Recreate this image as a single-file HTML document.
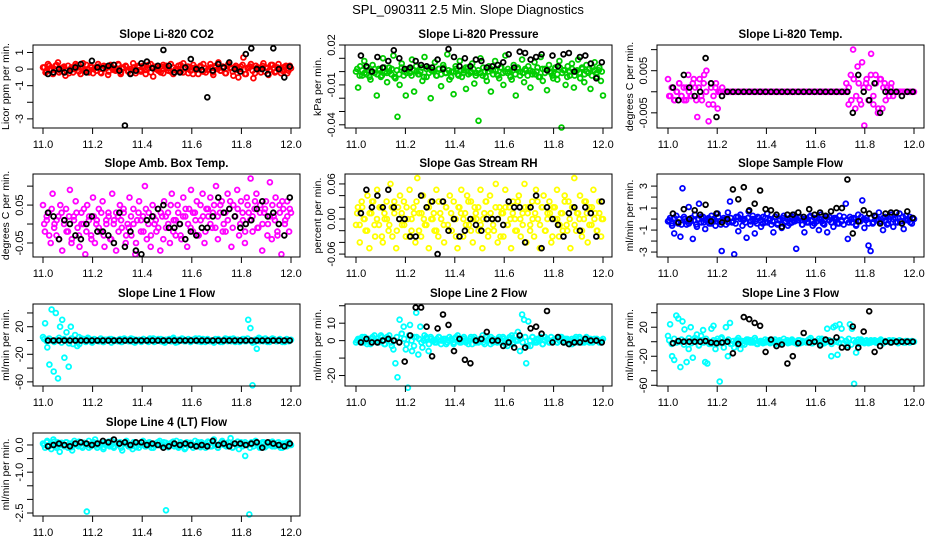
<!DOCTYPE html>
<html><head><meta charset="utf-8"><style>
html,body{margin:0;padding:0;background:#fff;}
svg{display:block;font-family:"Liberation Sans",sans-serif;}
</style></head><body>
<svg id="chart" width="936" height="540" viewBox="0 0 936 540">
<text x="468" y="14" text-anchor="middle" font-size="13">SPL_090311  2.5 Min. Slope Diagnostics</text>
</svg>
<script>
// ---- data ----
const xTicks = [11.0, 11.2, 11.4, 11.6, 11.8, 12.0];
const xTickLabels = ["11.0","11.2","11.4","11.6","11.8","12.0"];
const timeStart = 11.0, timeEnd = 12.0;

const co2Red = [0.1,-0.2,0.3,0.0,-0.3,0.2,0.4,-0.1,0.1,-0.4,0.2,0.0,-0.2,0.3,0.1,-0.3,0.35,-0.1,0.0,0.2,-0.25,0.1,0.3,-0.2,0.0,0.15,-0.35,0.25,0.05,-0.1,0.3,-0.3,0.1,0.2,-0.15,0.0,0.35,-0.25,0.1,-0.05,0.2,-0.3,0.05,0.3,-0.45,0.15,0.0,-0.2,0.25,0.1,-0.1,0.3,-0.3,0.0,0.2,-0.15,0.35,0.05,-0.25,0.1,0.25,-0.05,-0.3,0.15,0.3,-0.2,0.0,0.1,-0.35,0.2,0.4,-0.1,0.05,-0.25,0.3,0.1,-0.4,0.2,-0.5,0.15,0.7,-0.3,0.1,0.3,-0.55,0.2,0.0,-0.2,0.35,0.1,-0.35,0.25,0.05,-0.15,0.3,-0.25,0.1,0.2,-0.1,0.05];
const co2Core = [0.1,-0.15,0.2,-0.05,0.0,0.25,-0.2,0.05,0.15,-0.1,-0.25,0.1,0.0,0.2,-0.15,0.05,-0.05,0.25,-0.2,0.1,0.0,-0.1,0.15,-0.25,0.2,0.05,-0.15,0.1,-0.05,0.0,0.25,-0.2,0.05,0.15,-0.1,-0.25,0.1,0.0,0.2,-0.15,0.05,-0.05,0.25,-0.2,0.1,0.0,-0.1,0.15,-0.25,0.2,0.05,-0.15,0.1,-0.05,0.0,0.25,-0.2,0.05,0.15,-0.1,-0.3,0.1,0.0,0.2,-0.15,0.05,-0.05,0.3,-0.2,0.1,0.0,-0.1,0.15,-0.25,0.2,0.05,-0.15,0.1,-0.05,0.0,0.25,-0.3,0.05,0.15,-0.1,-0.25,0.1,0.0,0.2,-0.15,0.05,-0.05,0.25,-0.2,0.1,0.0,-0.1,0.15,-0.25,0.2];
const co2Black = [-0.3,-0.2,0.0,-0.2,-0.1,0.1,0.3,-0.2,0.5,0.1,0.05,0.2,0.25,-0.1,-3.4,-0.3,-0.1,0.35,0.45,0.05,0.2,1.15,0.2,-0.2,-0.2,0.1,0.6,0.0,-0.05,-1.7,-0.1,0.3,0.1,0.4,0.0,-0.15,0.9,1.25,0.0,0.0,-0.3,1.25,0.0,-0.5,0.15];

const presGreen = [0,-0.012,0.004,-0.003,0.008,-0.002,0.001,-0.006,0.005,-0.001,-0.018,0.002,-0.004,0.010,0.000,-0.008,0.003,-0.002,0.012,-0.005,-0.034,-0.010,0.006,-0.003,-0.018,0.002,-0.001,0.009,-0.015,0.004,-0.002,0.000,-0.007,0.011,-0.004,0.003,-0.020,0.001,0.007,-0.003,0.002,-0.011,0.005,-0.001,0.013,-0.006,0.000,-0.017,0.004,-0.002,0.008,-0.004,0.001,-0.013,0.003,-0.001,0.006,-0.009,-0.001,-0.037,0.010,-0.003,0.000,-0.007,0.004,-0.015,0.001,0.008,-0.002,-0.005,0.003,-0.010,0.012,-0.001,0.000,-0.006,0.005,-0.018,0.002,-0.003,0.009,-0.008,0.001,0.004,-0.012,-0.002,0.007,0.000,-0.004,0.011,-0.007,0.002,-0.014,0.005,-0.001,-0.005,0.003,-0.006,0.008,-0.042,0.001,-0.010,0.004,-0.003,0.006,-0.012,0.000,0.009,-0.005,0.002,-0.008,0.005,-0.001,-0.013,0.003,0.007,-0.004,0.001,-0.007,-0.018];
const presCore = [0.002,-0.003,0.001,-0.001,0.003,-0.004,0.000,0.002,-0.002,0.001,-0.003,0.003,-0.001,0.000,0.002,-0.004,0.001,-0.002,0.003,0.000,-0.001,0.002,-0.003,0.001,0.000,-0.002,0.003,-0.004,0.002,-0.001,0.001,0.000,-0.003,0.002,-0.002,0.003,-0.001,0.001,-0.004,0.000,0.002,-0.003,0.001,-0.001,0.003,-0.002,0.000,0.002,-0.003,0.001,-0.001,0.003,-0.004,0.000,0.002,-0.002,0.001,-0.003,0.003,-0.001,0.000,0.002,-0.004,0.001,-0.002,0.003,0.000,-0.001,0.002,-0.003,0.001,0.000,-0.002,0.003,-0.004,0.002,-0.001,0.001,0.000,-0.003,0.002,-0.002,0.003,-0.001,0.001,-0.004,0.000,0.002,-0.003,0.001,-0.001,0.003,-0.002,0.000,0.002,-0.003,0.001,-0.001,0.003,0.000];
const presBlack = [0.012,0.004,0.000,0.011,0.003,0.008,0.016,0.010,0.002,0.003,0.008,0.005,0.004,0.003,0.009,0.002,0.017,0.011,0.004,0.010,0.004,0.009,0.008,0.003,0.004,0.005,0.007,0.013,0.003,0.015,0.014,0.009,0.011,0.013,0.001,0.012,0.004,0.013,0.014,0.0,0.011,0.012,0.006,-0.005,0.007];

const tempMag = [0.003,-0.001,0.001,-0.002,0.000,0.002,-0.001,0.001,-0.002,0.004,-0.001,0.002,0.001,-0.006,0.003,-0.002,0.004,0.005,-0.007,0.002,-0.003,0.001,-0.004,0.000,0.001,0,0,0,0,0,0,0,0,0,0,0,0,0,0,0,0,0,0,0,0,0,0,0,0,0,0,0,0,0,0,0,0,0,0,0,0,0,0,0,0,0,0,0,0,0,0,0,0,0,0,0,0,0,0,0.002,-0.003,0.004,0.010,-0.004,0.006,-0.002,0.007,-0.008,0.003,0.001,0.009,-0.003,0.004,-0.005,0.003,-0.004,0.002,0.001,-0.001,0.002,0,0,0,0,0,0,0,0,0,0];
const tempCore = [-0.001,0.001,-0.002,0.000,0.002,-0.001,-0.002,0.001,0.000,-0.001,0.003,-0.002,0.001,-0.001,0.002,0.000,-0.003,0.001,-0.001,0.002,0.000,0.000,0,0,0,0,0,0,0,0,0,0,0,0,0,0,0,0,0,0,0,0,0,0,0,0,0,0,0,0,0,0,0,0,0,0,0,0,0,0,0,0,0,0,0,0,0,0,0,0,0,0,0,0.001,-0.002,0.003,-0.001,0.002,-0.003,0.001,0.002,-0.002,0.004,-0.001,0.002,-0.004,0.003,0.001,-0.002,0.000,0.001,-0.001,0,0,0,0,0,0,0,0];
const tempBlack = [0.001,-0.002,0.004,0.001,-0.001,0,0.008,0.002,-0.006,-0.001,0,0,0,0,0,0,0,0,0,0,0,0,0,0,0,0,0,0,0,0,0,0,0,-0.005,0.004,0,-0.002,0.002,-0.005,0,0,0,-0.001,0,0];

const ambMag = [0.05,-0.02,0.01,0.03,-0.05,0.08,0.0,-0.03,0.02,0.05,-0.07,0.01,0.04,-0.02,0.09,-0.04,0.02,0.06,-0.01,-0.06,0.03,0.0,-0.08,0.05,0.02,-0.03,0.07,-0.05,0.01,0.04,-0.02,0.06,-0.06,0.0,0.03,-0.04,0.08,0.01,-0.07,0.02,0.05,-0.01,0.03,-0.05,0.0,0.07,-0.03,0.04,-0.08,0.01,0.06,-0.02,0.02,0.10,-0.04,0.03,-0.06,0.05,0.0,-0.02,0.04,-0.07,0.02,0.06,-0.01,0.03,-0.05,0.08,0.01,-0.03,0.05,0.0,-0.04,0.07,0.02,-0.06,0.04,0.09,-0.02,0.03,0.06,-0.03,0.01,0.08,-0.05,0.04,0.02,0.07,-0.01,0.05,0.10,-0.04,0.03,0.06,0.0,-0.02,0.08,0.04,-0.06,0.05,0.02,0.09,-0.03,0.06,0.01,-0.05,0.07,0.03,0.12,-0.02,0.04,0.08,-0.01,0.05,-0.07,0.03,0.06,0.0,0.11,-0.04,0.02,0.07,-0.03,0.05,-0.08,0.04,0.01,0.06,-0.02,0.03];
const ambCore = [0.0,0.02,-0.03,0.04,-0.01,0.01,-0.04,0.03,0.0,-0.02,0.02,-0.05,0.01,0.03,-0.03,0.0,0.04,-0.02,0.01,-0.04,0.02,0.0,-0.01,0.03,-0.03,0.01,0.02,-0.04,0.0,0.03,-0.02,0.01,0.04,-0.03,-0.01,0.02,0.0,-0.05,0.03,0.01,-0.02,0.04,0.0,-0.03,0.02,0.01,-0.01,0.03,-0.04,0.02,0.0,0.05,-0.02,0.01,0.03,-0.03,0.02,0.04,0.0,-0.01,0.03,0.01,-0.03,0.05,0.02,-0.02,0.04,0.0,0.03,-0.01,0.02,0.05,-0.02,0.03,0.01,0.06,-0.01,0.02,0.04,0.0,0.03,-0.02,0.05,0.01,0.02,0.06,-0.01,0.03,0.0,0.04,-0.03,0.02,0.05,0.01,-0.02,0.03,0.06,0.0,0.02,0.04];
const ambBlack = [0.03,0.02,-0.04,0.01,0.0,-0.03,-0.04,0.0,0.02,-0.02,-0.02,-0.03,-0.05,0.03,-0.06,-0.02,-0.07,-0.08,0.01,0.02,0.04,0.05,-0.01,-0.01,0.0,-0.04,-0.02,-0.03,-0.01,-0.01,0.02,0.07,0.03,0.04,0.02,-0.01,0.0,0.01,0.04,0.06,0.02,0.03,0.0,-0.03,0.07];

const rhYellow = [-0.01,0.02,-0.04,0.03,0.0,-0.02,0.04,-0.05,0.01,0.03,-0.03,0.05,-0.01,0.02,-0.04,0.0,0.03,-0.02,0.06,-0.03,0.01,-0.05,0.02,0.04,-0.01,0.03,-0.03,0.0,0.05,-0.02,0.02,-0.04,0.07,0.01,-0.03,0.04,-0.01,0.02,-0.05,0.03,0.0,-0.02,0.05,-0.03,0.01,0.03,-0.04,0.02,-0.01,0.04,-0.02,0.03,0.0,-0.05,0.02,0.05,-0.03,0.01,0.04,-0.01,0.03,-0.04,0.02,0.0,-0.02,0.05,-0.05,0.01,0.03,-0.03,0.04,0.0,-0.02,0.06,-0.04,0.02,0.01,-0.03,0.05,-0.01,0.02,-0.05,0.03,0.0,-0.02,0.04,-0.03,0.01,0.06,-0.04,0.02,-0.01,0.03,-0.03,0.05,0.0,-0.05,0.02,0.04,-0.02,0.01,0.03,-0.04,0.02,0.0,0.05,-0.03,0.01,-0.02,0.04,-0.01,0.03,-0.05,0.02,0.07,-0.02,0.01,0.04,-0.03,0.0,0.03,-0.04,0.02,-0.01,0.05,0.01,-0.02,0.03,-0.03,0.0];
const rhCore = [0.01,-0.01,0.02,0.0,-0.02,0.01,0.03,-0.01,0.0,0.02,-0.03,0.01,0.0,-0.01,0.02,0.03,-0.02,0.0,0.01,-0.01,0.02,-0.03,0.0,0.01,0.03,-0.02,0.01,0.0,-0.01,0.02,0.0,0.01,-0.02,0.03,0.0,-0.01,0.02,-0.02,0.01,0.0,-0.03,0.02,0.01,0.0,-0.01,0.03,-0.02,0.0,0.01,0.02,-0.01,0.0,0.03,-0.02,0.01,-0.01,0.02,0.0,-0.03,0.01,0.02,-0.01,0.0,0.01,-0.02,0.03,0.0,-0.01,0.02,0.01,-0.02,0.0,0.01,0.03,-0.01,0.02,-0.02,0.0,0.01,-0.03,0.02,0.0,-0.01,0.01,0.03,-0.02,0.0,0.02,-0.01,0.01,0.0,-0.02,0.03,0.01,-0.01,0.02,0.0,-0.02,0.01,0.0];
const rhBlack = [0.01,0.05,0.02,0.04,0.02,0.05,0.02,0.0,0.0,-0.03,-0.03,0.04,0.02,0.03,-0.06,0.03,-0.02,0.0,-0.03,-0.02,0.0,-0.01,-0.02,0.0,0.0,0.0,-0.01,0.03,0.02,0.02,-0.04,0.02,0.04,-0.05,0.02,0.0,-0.01,-0.03,0.01,0.02,-0.02,0.02,0.01,-0.03,0.03];

const sampleBlue = [-0.2,0.1,-0.6,-1.3,0.3,-0.4,-1.6,2.8,0.0,-0.5,1.1,-0.2,-1.8,0.4,-0.7,1.4,-0.3,0.2,-0.9,0.0,-0.4,0.3,-0.1,-0.6,0.5,-0.2,-2.9,0.1,-0.5,0.6,1.6,-0.3,-3.2,0.2,-1.1,0.4,-0.6,0.0,-1.7,0.7,-0.2,0.3,-1.3,-0.4,0.1,-0.7,0.2,-0.3,0.5,-0.1,-0.5,-1.2,0.2,-0.4,0.0,-0.8,0.3,-0.2,-0.6,0.1,-0.3,0.4,-2.7,-0.1,0.2,-0.5,-1.2,0.0,-0.3,0.3,-0.6,0.1,-0.2,-1.0,0.4,-0.4,0.0,-1.2,0.2,-0.3,-0.7,0.1,-0.4,0.3,-0.1,-0.5,1.4,-1.8,0.2,-0.3,0.0,-0.6,0.4,-0.2,1.7,-0.8,0.1,-2.4,-2.9,-0.4,0.3,-0.1,0.6,-0.3,-1.0,0.2,-0.5,0.0,0.4,-0.7,0.1,-0.3,0.5,-0.2,-0.9,0.3,-0.1,0.2,-0.4,0.0];
const sampleCore = [-0.1,-0.4,0.1,-0.3,0.0,-0.5,0.2,-0.2,-0.4,0.1,-0.1,-0.5,0.0,0.2,-0.3,-0.1,0.1,-0.4,0.0,-0.2,0.2,-0.5,-0.1,0.0,-0.3,0.1,-0.2,-0.4,0.2,0.0,-0.1,-0.3,0.1,-0.5,0.0,-0.2,0.2,-0.1,-0.4,0.1,-0.3,0.0,-0.2,0.2,-0.5,-0.1,0.1,-0.3,0.0,-0.4,0.2,-0.2,-0.1,0.1,-0.5,0.0,-0.3,0.2,-0.1,-0.4,0.1,0.0,-0.2,-0.5,0.2,-0.1,-0.3,0.1,0.0,-0.4,-0.2,0.2,-0.1,-0.3,0.0,0.1,-0.5,-0.2,0.2,0.0,-0.1,-0.4,0.1,-0.3,0.2,0.0,-0.2,0.1,-0.1,-0.4,0.2,0.0,-0.3,0.1,-0.2,0.2,-0.1,0.0,-0.3,0.1];
const sampleBlack = [0.5,-0.3,0.9,0.0,0.8,0.4,1.3,-0.2,0.5,-0.3,0.0,2.7,1.8,2.9,0.8,1.4,2.6,0.9,0.8,0.4,-0.7,0.4,0.4,0.6,0.2,0.9,0.4,0.6,0.3,0.7,1.0,1.0,3.6,-1.3,-0.2,0.8,0.5,0.3,-0.4,0.5,0.6,0.6,-0.4,0.7,0.1];

const line1Cyan = [5,25,-10,-35,45,-45,40,-55,20,30,-25,12,-38,20,-5,8,-8,-5,3,0,-2,4,1,-3,2,0,-1,3,-2,1,0,2,-3,1,0,-1,2,-2,3,0,1,-1,2,-3,0,1,-2,2,0,-1,3,1,-2,0,2,-1,1,-3,0,2,-1,4,0,-2,1,3,-1,0,2,-2,1,0,-1,3,-2,0,1,2,-1,0,-3,1,2,0,-2,1,2,0,-1,3,0,1,-2,0,2,-1,30,18,-65,-2,-12,4,2,-1,3,0,-2,1,2,-1,0,1,-2,0,2,-1,1];
const line1Core = [2,-1,3,0,-2,1,4,-3,2,0,-4,3,1,-2,5,0,2,-1,3,-2,1,0,-1,2,-2,1,0,2,-1,0,1,-2,2,0,-1,3,-2,1,0,-1,2,0,-2,1,3,-1,0,2,-2,1,0,-1,2,-3,1,0,2,-1,1,-2,0,3,-1,0,2,-2,1,0,-1,2,1,-2,0,3,-1,2,0,-2,1,0,2,-1,3,0,-3,1,2,-1,0,2,-2,1,3,0,-1,2,0,-2,1,0];
const line1Black = [0,0,0,0,0,0,0,0,0,0,0,0,0,0,0,0,0,0,0,0,0,0,0,0,0,0,0,0,0,0,0,0,0,0,0,0,0,0,0,0,0,0,0,0,0];

const line2Cyan = [-1,1,0,2,-1,0,1,-2,2,0,1,-1,3,0,-2,2,1,-1,-5,-13,-21,12,4,8,-5,-27,9,-6,2,16,-8,8,-4,3,1,-6,2,0,-1,1,2,-2,0,1,-1,2,0,-2,1,3,-1,0,2,-1,0,1,-2,2,0,-1,1,3,-2,0,1,2,-1,0,-1,2,0,1,-2,-3,2,3,-1,0,5,-6,15,12,-13,11,-3,2,0,-1,1,2,-2,0,1,-1,2,0,1,-1,0,2,-1,1,0,-2,1,0,2,-1,1,0,-1,2,0,1,-1,0,1,0,-1,1];
const line2Core = [0,1,-1,2,-2,0,1,3,-1,0,2,-2,1,3,-3,0,2,-1,4,1,-2,3,0,-3,2,1,-1,0,2,-2,1,0,-1,2,0,1,-2,0,1,-1,2,0,-1,1,0,-2,2,1,-1,0,1,-1,2,0,-2,1,0,1,-1,2,0,-1,1,-2,3,0,1,-1,2,-3,0,2,-1,1,0,-2,2,1,-1,0,1,-1,2,0,-1,1,0,-2,1,0,2,-1,0,1,-1,0,1,0,-1,0];
const line2Black = [-1,1,-1,-1,0,1,0,-1,-12,3,19,19,8,-9,7,15,9,-6,1,-11,-13,0,1,5,0,0,-3,-1,-4,3,-4,7,8,4,17,-1,2,-1,-2,-1,-1,1,0,0,-1];

const line3Cyan = [8,24,-20,-25,36,32,-35,28,17,-28,-10,20,-22,5,10,-5,8,16,-28,-30,-3,18,22,-10,4,-55,6,-8,20,-20,26,-3,-8,2,5,-10,1,-4,3,0,2,-1,5,-3,0,1,-2,3,0,-1,2,1,-3,0,2,-1,4,0,-2,1,3,-1,0,2,-2,1,0,-1,3,5,-2,0,1,4,-4,2,-1,18,0,-20,20,22,-18,24,18,-2,1,-5,24,18,-58,-15,3,0,1,-2,2,0,-1,1,2,-1,0,1,-2,1,0,2,-1,0,1,-1,2,0,-1,1,0,-1,1,0];
const line3Core = [2,-3,4,-1,0,3,-4,1,5,-2,0,3,-5,2,-1,4,0,-3,2,1,-2,4,-1,0,3,-3,1,-1,2,0,-2,1,3,-1,0,2,-3,1,0,-1,2,-2,0,3,-1,1,-2,0,2,-1,1,0,-3,2,-1,0,1,3,-2,0,1,-1,4,-2,0,2,-3,1,0,-1,3,-2,1,4,-4,2,0,-3,3,-1,1,-2,2,0,-1,1,3,-2,0,1,-1,2,0,-2,1,0,-1,1,0,0];
const line3Black = [-2,1,0,0,0,0,1,-1,-2,-1,0,-16,-3,34,31,26,22,-14,3,-6,-4,-30,-20,-2,12,-1,0,-5,3,0,6,-8,-8,21,-8,14,42,-14,-6,0,-1,0,0,0,0];

const line4Cyan = [0.05,-0.1,0.15,0.0,-0.15,0.2,-0.05,0.1,-0.25,0.05,0.0,0.1,-0.1,0.05,-0.2,0.15,0.0,-0.05,0.1,-0.1,0.05,-2.45,0.15,-0.05,0.1,0.2,-0.1,0.0,0.05,-0.15,0.1,0.0,-0.05,0.15,-0.1,0.05,0.0,0.1,-0.2,0.05,0.15,-0.05,0.0,-0.15,0.1,0.05,-0.1,0.0,0.15,-0.05,0.05,0.1,-0.1,0.0,0.05,0.1,0.15,-0.05,0.1,-2.4,0.0,0.05,0.1,-0.05,0.15,-0.1,0.0,0.05,-0.15,0.1,0.0,0.05,-0.1,0.15,0.0,-0.05,0.1,0.05,-0.1,0.0,0.1,-0.05,0.2,0.0,-0.1,0.05,0.15,0.0,-0.05,0.1,0.25,-0.1,0.05,0.0,-0.15,0.1,0.05,-0.4,0.0,-2.55,0.1,-0.05,0.15,0.0,-0.1,0.05,0.1,-0.05,0.0,0.1,-0.05,0.05,0.0,0.1,-0.1,0.05,0.0,-0.05,0.1,0.0];
const line4Core = [0.0,0.1,-0.05,0.05,0.12,-0.1,0.0,0.08,-0.05,0.1,0.02,-0.08,0.05,0.0,0.12,-0.05,0.08,0.0,-0.1,0.05,0.1,-0.02,0.0,0.08,-0.08,0.05,0.12,0.0,-0.05,0.1,0.02,-0.1,0.05,0.08,0.0,-0.05,0.1,-0.08,0.05,0.0,0.12,-0.05,0.08,0.0,-0.1,0.05,0.1,-0.02,0.0,0.08,-0.08,0.05,0.12,0.0,-0.05,0.1,0.02,-0.1,0.05,0.08,0.0,-0.05,0.1,-0.08,0.05,0.0,0.12,-0.05,0.08,0.0,-0.1,0.05,0.1,-0.02,0.0,0.08,-0.08,0.05,0.12,0.0,-0.05,0.1,0.02,-0.1,0.05,0.08,0.0,-0.05,0.1,-0.08,0.05,0.0,0.12,-0.05,0.08,0.0,-0.1,0.05,0.1,0.0];
const line4Black = [-0.05,0.0,0.05,0.0,-0.05,0.05,0.1,0.05,0.0,0.05,0.15,0.1,0.2,0.05,0.1,0.0,0.1,0.1,0.0,0.05,0.0,-0.1,-0.05,0.05,0.0,0.05,0.0,-0.05,0.0,-0.05,0.15,0.0,0.05,-0.05,0.05,0.05,0.0,0.05,0.1,-0.1,0.1,0.05,0.0,-0.05,0.05];

// ---- layout ----
const cols = [{l:33,r:300,x0:43,x1:291},{l:345,r:612,x0:356,x1:603},{l:657,r:924,x0:668,x1:914}];
const rows = [{t:45,b:128},{t:174,b:257},{t:304,b:386},{t:433,b:516}];

const panels = [
 {key:"co2",col:0,row:0,title:"Slope Li-820 CO2",ylab:"Licor ppm per min.",ymin:-3.55,ymax:1.45,ticks:[-3,-2,-1,0,1],labels:["-3","","-1","0","1"],color:"#ff0000",main:co2Red,core:co2Core,black:co2Black},
 {key:"pressure",col:1,row:0,title:"Slope Li-820 Pressure",ylab:"kPa per min.",ymin:-0.0424,ymax:0.02,ticks:[-0.04,-0.03,-0.02,-0.01,0,0.01,0.02],labels:["-0.04","","","-0.01","","","0.02"],color:"#00cd00",main:presGreen,core:presCore,black:presBlack},
 {key:"licor-temp",col:2,row:0,title:"Slope Li-820 Temp.",ylab:"degrees C per min.",ymin:-0.0086,ymax:0.0111,ticks:[-0.005,0,0.005,0.01],labels:["-0.005","","0.005",""],color:"#ff00ff",main:tempMag,core:tempCore,black:tempBlack},
 {key:"amb-temp",col:0,row:1,title:"Slope Amb. Box Temp.",ylab:"degrees C per min.",ymin:-0.087,ymax:0.132,ticks:[-0.05,0,0.05,0.1],labels:["-0.05","","0.05",""],color:"#ff00ff",main:ambMag,core:ambCore,black:ambBlack},
 {key:"rh",col:1,row:1,title:"Slope Gas Stream RH",ylab:"percent per min.",ymin:-0.065,ymax:0.077,ticks:[-0.06,-0.04,-0.02,0,0.02,0.04,0.06],labels:["-0.06","","","0.00","","","0.06"],color:"#ffff00",main:rhYellow,core:rhCore,black:rhBlack},
 {key:"sample-flow",col:2,row:1,title:"Slope Sample Flow",ylab:"ml/min per min.",ymin:-3.45,ymax:4.1,ticks:[-3,-2,-1,0,1,2,3],labels:["-3","","-1","","1","","3"],color:"#0000ff",main:sampleBlue,core:sampleCore,black:sampleBlack},
 {key:"line1",col:0,row:2,title:"Slope Line 1 Flow",ylab:"ml/min per min.",ymin:-66,ymax:53,ticks:[-60,-40,-20,0,20,40],labels:["-60","","-20","","20",""],color:"#00ffff",main:line1Cyan,core:line1Core,black:line1Black},
 {key:"line2",col:1,row:2,title:"Slope Line 2 Flow",ylab:"ml/min per min.",ymin:-26,ymax:21,ticks:[-20,-10,0,10,20],labels:["-20","","0","10",""],color:"#00ffff",main:line2Cyan,core:line2Core,black:line2Black},
 {key:"line3",col:2,row:2,title:"Slope Line 3 Flow",ylab:"ml/min per min.",ymin:-61,ymax:52,ticks:[-60,-40,-20,0,20,40],labels:["-60","","-20","","20",""],color:"#00ffff",main:line3Cyan,core:line3Core,black:line3Black},
 {key:"line4",col:0,row:3,title:"Slope Line 4 (LT) Flow",ylab:"ml/min per min.",ymin:-2.61,ymax:0.44,ticks:[-2.5,-2,-1.5,-1,-0.5,0],labels:["-2.5","","","-1.0","","0.0"],color:"#00ffff",main:line4Cyan,core:line4Core,black:line4Black}
];

const NS = "http://www.w3.org/2000/svg";
const svg = document.getElementById("chart");
function mk(tag, attrs, parent, text){
  const e = document.createElementNS(NS, tag);
  for (const k in attrs) e.setAttribute(k, attrs[k]);
  if (text !== undefined) e.textContent = text;
  parent.appendChild(e);
  return e;
}

panels.forEach(p => {
  const c = cols[p.col], r = rows[p.row];
  const xs = v => c.x0 + (v - timeStart) / (timeEnd - timeStart) * (c.x1 - c.x0);
  const ys = v => r.b - (v - p.ymin) / (p.ymax - p.ymin) * (r.b - r.t);
  const g = mk("g", {}, svg);
  
  

  const title = mk("text", {x:(c.l+c.r)/2, y:r.t-7, "text-anchor":"middle", "font-size":"11.5", "font-weight":"bold"}, g, p.title);
  
  

  const pts = mk("g", {fill:"none", "stroke-width":"1.8"}, g);
  
  
  const n = p.main.length;
  p.main.forEach((v, i) => {
    const t = timeStart + i / (n - 1) * (timeEnd - timeStart);
    const cc = mk("circle", {cx:xs(t).toFixed(1), cy:ys(v).toFixed(1), r:"2.4", stroke:p.color}, pts);
    
    
  });
  const nc = p.core.length;
  p.core.forEach((v, i) => {
    const t = timeStart + (i + 0.5) / nc * (timeEnd - timeStart);
    const cc = mk("circle", {cx:xs(t).toFixed(1), cy:ys(v).toFixed(1), r:"2.4", stroke:p.color}, pts);
    
    
  });
  const nb = p.black.length;
  p.black.forEach((v, i) => {
    const t = timeStart + 0.02 + i / (nb - 1) * (timeEnd - timeStart - 0.025);
    const cc = mk("circle", {cx:xs(t).toFixed(1), cy:ys(v).toFixed(1), r:"2.4", stroke:"#000"}, pts);
    
    
  });

  const box = mk("rect", {x:c.l, y:r.t, width:c.r-c.l, height:r.b-r.t, fill:"none", stroke:"#000", "stroke-width":"1"}, g);
  
  

  const xa = mk("g", {stroke:"#000", "stroke-width":"1"}, g);
  
  
  xTicks.forEach((v, i) => {
    const x = xs(v);
    mk("line", {x1:x, x2:x, y1:r.b, y2:r.b+6}, xa);
    const tl = mk("text", {x:x, y:r.b+20, "text-anchor":"middle", "font-size":"11", stroke:"none", fill:"#000"}, xa, xTickLabels[i]);
    
    
  });

  const ya = mk("g", {stroke:"#000", "stroke-width":"1"}, g);
  
  
  p.ticks.forEach((v, i) => {
    const y = ys(v);
    mk("line", {x1:c.l-6, x2:c.l, y1:y, y2:y}, ya);
    if (p.labels[i]) {
      const tl = mk("text", {x:c.l-10, y:y, "text-anchor":"middle", "font-size":"11", stroke:"none", fill:"#000", transform:`rotate(-90 ${c.l-10} ${y})`}, ya, p.labels[i]);
      
      
    }
  });
  const yx = c.l - 24, yy = (r.t + r.b) / 2;
  const yl = mk("text", {x:yx, y:yy, "text-anchor":"middle", "font-size":"10.5", transform:`rotate(-90 ${yx} ${yy})`}, g, p.ylab);
  
  
});
</script>
</body></html>
